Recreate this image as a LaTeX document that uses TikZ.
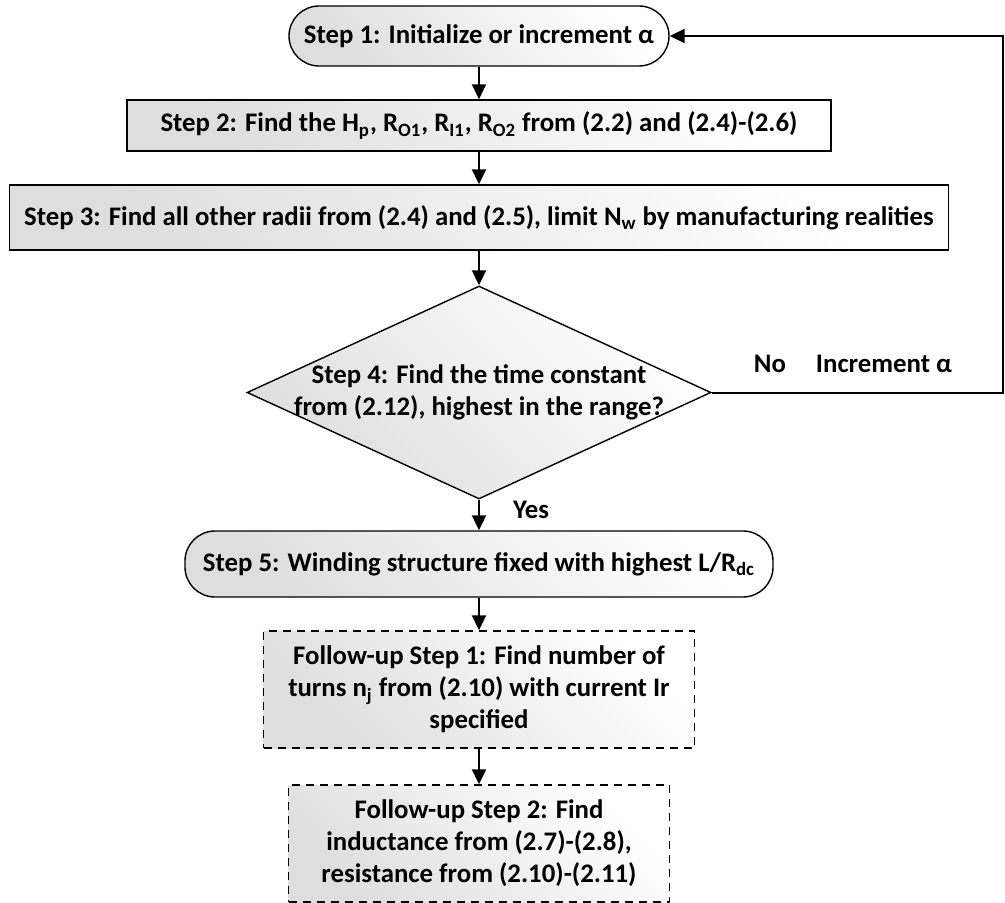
\documentclass[tikz,border=0pt]{standalone}
\usepackage{fontspec}
\setmainfont{Carlito}
\usepackage{tikz}
\usetikzlibrary{arrows.meta,shapes.geometric}

\tikzset{
  stepfont/.style={font=\fontsize{13.4}{16}\selectfont\bfseries},
  shadefill/.style={left color=black!13, right color=white, shading angle=135},
  terminal/.style={draw, stepfont, shadefill, line width=0.7pt, rounded corners=15pt, inner sep=0pt, minimum height=30pt},
  process/.style={draw, stepfont, shadefill, line width=0.7pt, inner sep=0pt, minimum height=25.5pt},
  followup/.style={process, dashed, dash pattern=on 4pt off 3pt, align=center},
  decision/.style={diamond, draw, shadefill, line width=0.7pt, inner sep=0pt},
  flow/.style={line width=1pt, -{Triangle[length=7.5pt,width=7pt]}},
}

\begin{document}
\begin{tikzpicture}[x=0.5pt, y=-0.5pt]
\useasboundingbox (0,0) rectangle (1005,903);

% main steps
\node[terminal, minimum width=190pt] (s1) at (479,36) {Step 1: Initialize or increment α};
\node[process, minimum width=352pt] (s2) at (479,125.5) {Step 2: Find the H\textsubscript{p}, R\textsubscript{O1}, R\textsubscript{I1}, R\textsubscript{O2} from (2.2) and (2.4)-(2.6)};
\node[process, minimum width=469.5pt, minimum height=32.5pt] (s3) at (479,217.5) {Step 3: Find all other radii from (2.4) and (2.5), limit N\textsubscript{w} by manufacturing realities};
\node[decision, minimum width=232pt, minimum height=106.5pt] (s4) at (479,392.5) {};
\node[stepfont, align=center] (s4text) at (s4.center) {Step 4: Find the time constant\\from (2.12), highest in the range?};
\node[terminal, minimum width=294pt, minimum height=33pt] (s5) at (479,564) {Step 5: Winding structure fixed with highest L/R\textsubscript{dc}};

% follow-up steps
\node[followup, minimum width=215.5pt, minimum height=58.5pt] (f1) at (479,689.5) {Follow-up Step 1: Find number of\\turns n\textsubscript{j} from (2.10) with current Ir\\specified};
\node[followup, minimum width=190.5pt, minimum height=58.5pt] (f2) at (479,843.5) {Follow-up Step 2: Find\\inductance from (2.7)-(2.8),\\resistance from (2.10)-(2.11)};

% labels
\node[stepfont] (yes) at (531,510) {Yes};
\node[stepfont] (no) at (770,364) {No};
\node[stepfont] (inc) at (884,364) {Increment α};

% connectors
\coordinate (back) at (1003,392.5);
\draw[flow] (s1) -- (s2);
\draw[flow] (s2) -- (s3);
\draw[flow] (s3) -- (s4);
\draw[flow] (s4) -- (s5);
\draw[flow] (s5) -- (f1);
\draw[flow] (f1) -- (f2);
\draw[flow] (s4.east) -- (back) |- (s1.east);

\end{tikzpicture}
\end{document}
